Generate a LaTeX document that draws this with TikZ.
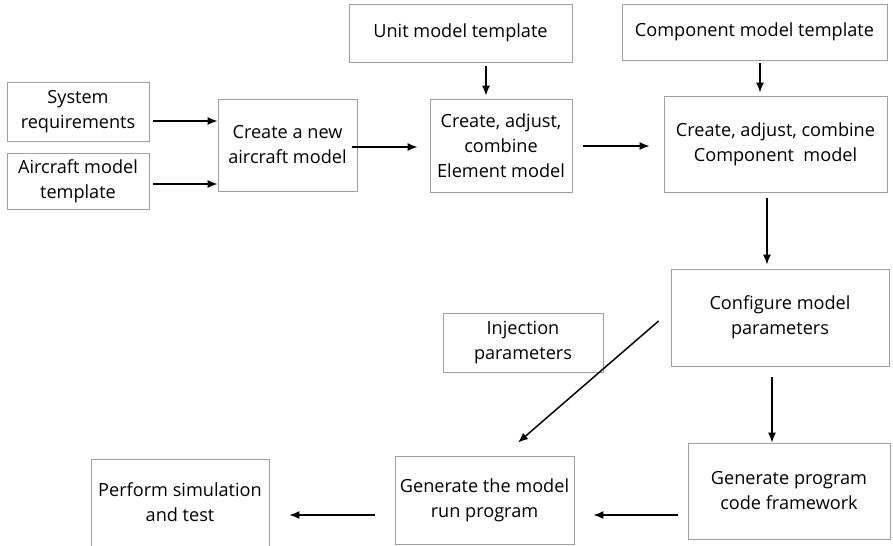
\documentclass[tikz,border=0pt]{standalone}
\usepackage{fontspec}
\setmainfont{Open Sans}
\usetikzlibrary{arrows.meta}
\begin{document}
\begin{tikzpicture}[>={Latex[length=7.5pt,width=6pt]}, x=0.75pt, y=-0.75pt,
  box/.style={draw=gray!75, line width=0.6pt, align=center, inner sep=0pt,
    font=\fontsize{13.6}{18.75}\selectfont},
  flow/.style={->, line width=1.1pt}]
\useasboundingbox[fill=white] (0,0) rectangle (893,546);
\node[box, minimum width=106.5pt, minimum height=44.25pt] (sysreq) at (78,111.5) {System\\requirements};
\node[box, minimum width=106.5pt, minimum height=42pt] (acmodel) at (78,181) {Aircraft model\\template};
\node[box, minimum width=104.25pt, minimum height=69pt] (newmodel) at (287.5,145) {Create a new\\aircraft model};
\node[box, minimum width=167.25pt, minimum height=43.5pt] (unittpl) at (460.5,33) {Unit model template};
\node[box, minimum width=106.5pt, minimum height=69.75pt] (element) at (501,145.5) {Create, adjust,\\combine\\Element model};
\node[box, minimum width=198.75pt, minimum height=42pt] (comptpl) at (754.5,32) {Component model template};
\node[box, minimum width=167.25pt, minimum height=72pt] (component) at (775.5,144) {Create, adjust, combine\\Component\ \ model};
\node[box, minimum width=163.5pt, minimum height=72.75pt] (config) at (780,317.5) {Configure model\\parameters};
\node[box, minimum width=120pt, minimum height=44.25pt] (inject) at (523,342.5) {Injection\\parameters};
\node[box, minimum width=151.5pt, minimum height=72pt] (framework) at (789,491) {Generate program\\code framework};
\node[box, minimum width=134.25pt, minimum height=66pt] (runprog) at (484.5,500) {Generate the model\\run program};
\node[box, minimum width=133.5pt, minimum height=65.25pt] (perform) at (180,502.5) {Perform simulation\\and test};

\draw[flow] ([shift={(4,9.5)}]sysreq.east) coordinate (s1) -- (s1 -| newmodel.west);
\draw[flow] ([shift={(4,3)}]acmodel.east) coordinate (s2) -- (s2 -| newmodel.west);
\draw[flow, shorten >=9pt] ([shift={(-5,2)}]newmodel.east) coordinate (s3) -- (s3 -| element.west);
\draw[flow, shorten >=10.5pt] ([shift={(11,0.5)}]element.east) coordinate (s4) -- (s4 -| component.west);
\draw[flow, shorten >=2.25pt] ([shift={(25.5,4)}]unittpl.south) coordinate (s5) -- (s5 |- element.north);
\draw[flow, shorten >=2.25pt] ([shift={(5.5,3)}]comptpl.south) coordinate (s6) -- (s6 |- component.north);
\draw[flow, shorten >=3pt] ([shift={(-8.5,6)}]component.south) coordinate (s7) -- (s7 |- config.north);
\draw[flow] ([shift={(-8,11)}]config.south) coordinate (s8) -- (s8 |- framework.north);
\draw[flow] ([shift={(-12,3.5)}]config.west) -- ([shift={(33.5,-13)}]runprog.north);
\draw[flow, shorten >=14.25pt] ([shift={(-10,24)}]framework.west) coordinate (s9) -- (s9 -| runprog.east);
\draw[flow, shorten >=15pt] ([shift={(-20,15)}]runprog.west) coordinate (s10) -- (s10 -| perform.east);
\end{tikzpicture}
\end{document}
